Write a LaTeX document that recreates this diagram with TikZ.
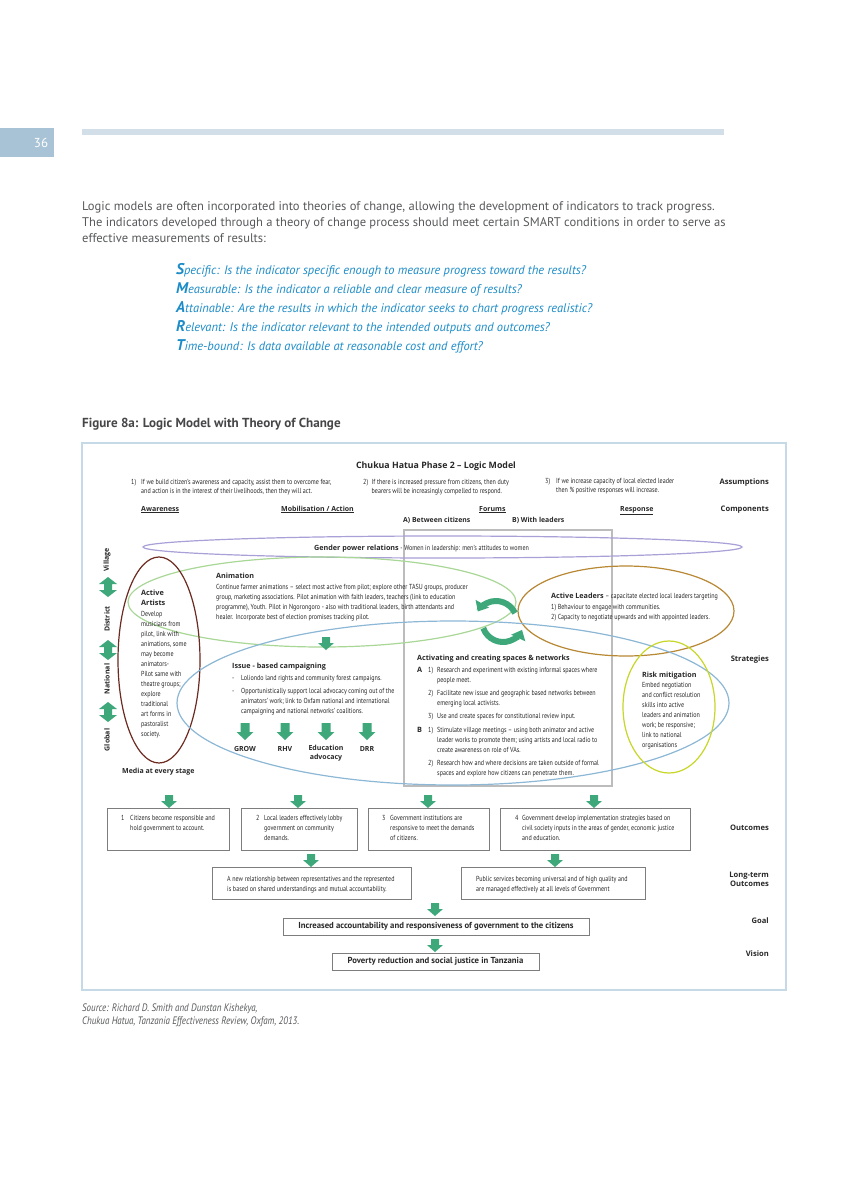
\documentclass[tikz,border=0pt]{standalone}
\usepackage{fontspec}
\setmainfont{PT Sans}
\newfontfamily\cnd{PT Sans}[FakeStretch=0.83]
\newfontfamily\hd{Open Sans}
\usetikzlibrary{arrows.meta}
\definecolor{tabblue}{RGB}{168,195,213}
\definecolor{barblue}{RGB}{210,223,233}
\definecolor{bodyc}{RGB}{88,89,91}
\definecolor{smartc}{RGB}{28,140,200}
\definecolor{capc}{RGB}{70,70,72}
\definecolor{framec}{RGB}{197,217,230}
\definecolor{dtext}{RGB}{40,40,40}
\definecolor{garc}{RGB}{62,168,122}
\definecolor{purpc}{RGB}{168,160,215}
\definecolor{lgreenc}{RGB}{168,215,150}
\definecolor{brownc}{RGB}{108,42,32}
\definecolor{goldc}{RGB}{184,136,52}
\definecolor{bluec}{RGB}{140,184,214}
\definecolor{yelc}{RGB}{200,214,40}
\definecolor{grayc}{RGB}{188,188,188}
\definecolor{boxc}{RGB}{125,125,125}
\begin{document}
\begin{tikzpicture}[x=1pt,y=-1pt,
  txt/.style={anchor=north west, inner sep=0pt, align=left, text=dtext, font=\cnd\fontsize{7.3}{10}\selectfont},
  hdl/.style={anchor=base west, inner sep=0pt, text=dtext, font=\hd\bfseries\fontsize{7}{9}\selectfont},
  rlab/.style={anchor=base east, inner sep=0pt, text=dtext, font=\hd\bfseries\fontsize{7.6}{9}\selectfont},
  comp/.style={anchor=base west, inner sep=0pt, text=dtext, font=\hd\bfseries\fontsize{7}{9}\selectfont},
  obox/.style={draw=boxc, line width=1pt, inner sep=0pt},
  gbox/.style={draw=boxc, line width=1pt, inner sep=0pt, text=dtext, font=\bfseries\fontsize{8.7}{10}\selectfont},
  ell/.style={line width=1.2pt},
  sdarr/.pic={\fill[garc] (-4,0) -- (4,0) -- (4,6) -- (8,6) -- (0,13) -- (-8,6) -- (-4,6) -- cycle;},
  bdarr/.pic={\fill[garc] (-4.5,0) -- (4.5,0) -- (4.5,9) -- (8.5,9) -- (0,17) -- (-8.5,9) -- (-4.5,9) -- cycle;},
  vdarr/.pic={\fill[garc] (0,-10) -- (9,-3) -- (4,-3) -- (4,3) -- (9,3) -- (0,10) -- (-9,3) -- (-4,3) -- (-4,-3) -- (-9,-3) -- cycle;}
]
\useasboundingbox (0,0) rectangle (848,1200);
\fill[white] (0,0) rectangle (848,1200);

% page header
\fill[tabblue] (0,128) rectangle (54,157);
\node[inner sep=0pt, text=white, font=\fontsize{13}{13}\selectfont] (pnum) at (41,143) {36};
\fill[barblue] (82,129) rectangle (724,135);

% intro paragraph
\node[anchor=north west, inner sep=0pt, align=left, text=bodyc, font=\fontsize{12.55}{16}\selectfont] (intro) at (82,198.8)
{\strut Logic models are often incorporated into theories of change, allowing the development of indicators to track progress.\\
The indicators developed through a theory of change process should meet certain SMART conditions in order to serve as\\
effective measurements of results:};

\node[anchor=north west, inner sep=0pt, align=left, text=smartc, font=\itshape\fontsize{12.45}{19}\selectfont] (smart) at (176,261.2)
{\strut{\bfseries\fontsize{15.5}{19}\selectfont S}pecific: Is the indicator specific enough to measure progress toward the results?\\
{\bfseries\fontsize{15.5}{19}\selectfont M}easurable: Is the indicator a reliable and clear measure of results?\\
{\bfseries\fontsize{15.5}{19}\selectfont A}ttainable: Are the results in which the indicator seeks to chart progress realistic?\\
{\bfseries\fontsize{15.5}{19}\selectfont R}elevant: Is the indicator relevant to the intended outputs and outcomes?\\
{\bfseries\fontsize{15.5}{19}\selectfont T}ime-bound: Is data available at reasonable cost and effort?};

\node[anchor=base west, inner sep=0pt, text=capc, font=\bfseries\fontsize{13.1}{15}\selectfont] (figcap) at (82,427) {Figure 8a: Logic Model with Theory of Change};

% frame
\draw[framec, line width=1.3pt] (82,443) rectangle (786,990);

% title
\node[anchor=base, inner sep=0pt, text=dtext, font=\hd\bfseries\fontsize{8.8}{10}\selectfont] (title) at (436,468.5) {Chukua Hatua Phase 2 – Logic Model};

% assumptions
\node[txt, font=\cnd\fontsize{7.3}{9.2}\selectfont] (as1) at (131,478) {\strut\makebox[10pt][l]{1)}If we build citizen’s awareness and capacity, assist them to overcome fear,\\\hspace*{10pt}and action is in the interest of their livelihoods, then they will act.};
\node[txt, font=\cnd\fontsize{7.3}{9.2}\selectfont] (as2) at (363,478) {\strut\makebox[8.5pt][l]{2)}If there is increased pressure from citizens, then duty\\\hspace*{8.5pt}bearers will be increasingly compelled to respond.};
\node[txt, font=\cnd\fontsize{7.3}{9.2}\selectfont] (as3) at (545,477) {\strut\makebox[11pt][l]{3)}If we increase capacity of local elected leader\\\hspace*{11pt}then \% positive responses will increase.};

% right column labels
\node[rlab] (lassump) at (769,484) {Assumptions};
\node[rlab] (lcomp) at (769,511) {Components};
\node[rlab] (lstrat) at (769,661) {Strategies};
\node[rlab] (lout) at (769,830) {Outcomes};
\node[rlab, anchor=north east, align=right] (llto) at (769,872) {Long-term\\Outcomes};
\node[rlab] (lgoal) at (769,923) {Goal};
\node[rlab] (lvis) at (769,956) {Vision};

% components
\node[comp] (caw) at (141,511) {\underline{Awareness}};
\node[comp] (cmob) at (281,511) {\underline{Mobilisation / Action}};
\node[comp] (cfor) at (479,511) {\underline{Forums}};
\node[comp] (cres) at (620,511) {\underline{Response}};
\node[hdl, font=\hd\bfseries\fontsize{6.9}{9}\selectfont] (fa) at (403,522) {A) Between citizens};
\node[hdl, font=\hd\bfseries\fontsize{6.9}{9}\selectfont] (fb) at (512,522) {B) With leaders};

% forums box
\draw[grayc, line width=1.3pt] (404,530) rectangle (612,786);

% ellipses
\draw[ell, purpc] (442.5,547) ellipse [x radius=299.5, y radius=11];
\draw[ell, lgreenc] (322,602) ellipse [x radius=194, y radius=45];
\draw[ell, brownc] (159,660) ellipse [x radius=41, y radius=103];
\draw[ell, goldc] (626,611) ellipse [x radius=108, y radius=45];
\draw[ell, bluec] (453,703) ellipse [x radius=276, y radius=82];
\draw[ell, yelc] (669,707) ellipse [x radius=46, y radius=66];

% gender
\node[anchor=base west, inner sep=0pt, text=dtext] (gender) at (314,550) {{\hd\bfseries\fontsize{7.2}{9}\selectfont Gender power relations}\,{\cnd\fontsize{7.3}{9}\selectfont - Women in leadership: men’s attitudes to women}};

% levels
\node[hdl, anchor=center, rotate=90] (lvil) at (107,560) {Village};
\node[hdl, anchor=center, rotate=90] (ldis) at (107,619) {District};
\node[hdl, anchor=center, rotate=90] (lnat) at (107,679) {National};
\node[hdl, anchor=center, rotate=90] (lglo) at (107,740) {Global};
\pic at (108,587) {vdarr};
\pic at (108,650) {vdarr};
\pic at (108,712) {vdarr};

% active artists
\node[txt, font=\hd\bfseries\fontsize{7.3}{9.5}\selectfont] (aah) at (141,589) {\strut Active\\Artists};
\node[txt] (aab) at (141,609.5) {\strut Develop\\musicians from\\pilot, link with\\animations, some\\may become\\animators-\\Pilot same with\\theatre groups;\\explore\\traditional\\art forms in\\pastoralist\\society.};
\node[hdl] (media) at (122,773) {Media at every stage};

% animation
\node[hdl, font=\hd\bfseries\fontsize{7.2}{9}\selectfont] (anh) at (216,578) {Animation};
\node[txt] (anb) at (216,582.5) {\strut Continue farmer animations – select most active from pilot; explore other TASU groups, producer\\
group, marketing associations. Pilot animation with faith leaders, teachers (link to education\\
programme), Youth. Pilot in Ngorongoro - also with traditional leaders, birth attendants and\\
healer. Incorporate best of election promises tracking pilot.};
\pic at (326,637) {sdarr};

% circular arrows
\draw[garc, line width=6pt, -{Triangle[width=15pt,length=9pt]}] (496,622) ++(-25:21) arc[start angle=-25, end angle=-150, radius=21];
\draw[garc, line width=6pt, -{Triangle[width=15pt,length=9pt]}] (503,621) ++(160:21) arc[start angle=160, end angle=25, radius=21];

% active leaders
\node[txt, font=\cnd\fontsize{7.3}{10.5}\selectfont] (alb) at (551,591) {\strut{\hd\bfseries\fontsize{7.2}{9}\selectfont Active Leaders} – capacitate elected local leaders targeting\\
1) Behaviour to engage with communities.\\
2) Capacity to negotiate upwards and with appointed leaders.};

% issue based campaigning
\node[hdl, font=\hd\bfseries\fontsize{7.2}{9}\selectfont] (ibh) at (232,668) {Issue - based campaigning};
\node[txt] (ibb) at (232,673.5) {\strut\makebox[9pt][l]{-}Loliondo land rights and community forest campaigns.\\[3pt]
\makebox[9pt][l]{-}Opportunistically support local advocacy coming out of the\\
\hspace*{9pt}animators’ work; link to Oxfam national and international\\
\hspace*{9pt}campaigning and national networks’ coalitions.};
\pic at (245,723) {bdarr};
\pic at (285,723) {bdarr};
\pic at (326,723) {bdarr};
\pic at (367,723) {bdarr};
\node[hdl, anchor=base] (cgrow) at (245,751) {GROW};
\node[hdl, anchor=base] (crhv) at (285,751) {RHV};
\node[hdl, anchor=north, align=center, font=\hd\bfseries\fontsize{7}{9}\selectfont] (cedu) at (326,743.5) {\strut Education\\advocacy};
\node[hdl, anchor=base] (cdrr) at (367,751) {DRR};

% activating
\node[hdl, font=\hd\bfseries\fontsize{7.2}{9}\selectfont] (ach) at (417,660) {Activating and creating spaces \& networks};
\node[txt] (acb) at (417,665.5) {\strut\makebox[11pt][l]{\hd\bfseries A}\makebox[9pt][l]{1)}Research and experiment with existing informal spaces where\\
\hspace*{20pt}people meet.\\[3pt]
\hspace*{11pt}\makebox[9pt][l]{2)}Facilitate new issue and geographic based networks between\\
\hspace*{20pt}emerging local activists.\\[3pt]
\hspace*{11pt}\makebox[9pt][l]{3)}Use and create spaces for constitutional review input.\\[4pt]
\makebox[11pt][l]{\hd\bfseries B}\makebox[9pt][l]{1)}Stimulate village meetings – using both animator and active\\
\hspace*{20pt}leader works to promote them; using artists and local radio to\\
\hspace*{20pt}create awareness on role of VAs.\\[3pt]
\hspace*{11pt}\makebox[9pt][l]{2)}Research how and where decisions are taken outside of formal\\
\hspace*{20pt}spaces and explore how citizens can penetrate them.};

% risk mitigation
\node[hdl, font=\hd\bfseries\fontsize{7.2}{9}\selectfont] (rmh) at (642,677) {Risk mitigation};
\node[txt] (rmb) at (642,680.5) {\strut Embed negotiation\\and conflict resolution\\skills into active\\leaders and animation\\work; be responsive;\\link to national\\organisations};

% outcomes
\pic at (169,795) {sdarr};
\pic at (298,795) {sdarr};
\pic at (428,795) {sdarr};
\pic at (594,795) {sdarr};
\node[obox, minimum width=122pt, minimum height=42pt] (o1) at (168,829) {};
\node[obox, minimum width=116pt, minimum height=42pt] (o2) at (299,829) {};
\node[obox, minimum width=121pt, minimum height=42pt] (o3) at (428.5,829) {};
\node[obox, minimum width=190pt, minimum height=42pt] (o4) at (595,829) {};
\node[txt] (o1t) at (121,813.5) {\strut\makebox[9pt][l]{1}Citizens become responsible and\\\hspace*{9pt}hold government to account.};
\node[txt] (o2t) at (256,813.5) {\strut\makebox[8pt][l]{2}Local leaders effectively lobby\\\hspace*{8pt}government on community\\\hspace*{8pt}demands.};
\node[txt] (o3t) at (382,813.5) {\strut\makebox[8pt][l]{3}Government institutions are\\\hspace*{8pt}responsive to meet the demands\\\hspace*{8pt}of citizens.};
\node[txt] (o4t) at (515,813.5) {\strut\makebox[7pt][l]{4}Government develop implementation strategies based on\\\hspace*{7pt}civil society inputs in the areas of gender, economic justice\\\hspace*{7pt}and education.};

% long-term outcomes
\pic at (311,854) {sdarr};
\pic at (555,854) {sdarr};
\node[obox, minimum width=199pt, minimum height=32pt] (l1) at (311.5,883) {};
\node[obox, minimum width=184pt, minimum height=32pt] (l2) at (553,883) {};
\node[txt] (l1t) at (227,874.5) {\strut A new relationship between representatives and the represented\\is based on shared understandings and mutual accountability.};
\node[txt] (l2t) at (476,874.5) {\strut Public services becoming universal and of high quality and\\are managed effectively at all levels of Government};

% goal and vision
\pic at (435,903) {sdarr};
\node[gbox, minimum width=306pt, minimum height=17pt] (goal) at (436,926.5) {Increased accountability and responsiveness of government to the citizens};
\pic at (435,939) {sdarr};
\node[gbox, minimum width=207pt, minimum height=17pt] (vision) at (435.5,961.5) {Poverty reduction and social justice in Tanzania};

% source
\node[anchor=north west, inner sep=0pt, align=left, text=bodyc, font=\cnd\itshape\fontsize{10.8}{13}\selectfont] (src) at (82,1002.4) {\strut Source: Richard D. Smith and Dunstan Kishekya,\\Chukua Hatua, Tanzania Effectiveness Review, Oxfam, 2013.};
\end{tikzpicture}
\end{document}
